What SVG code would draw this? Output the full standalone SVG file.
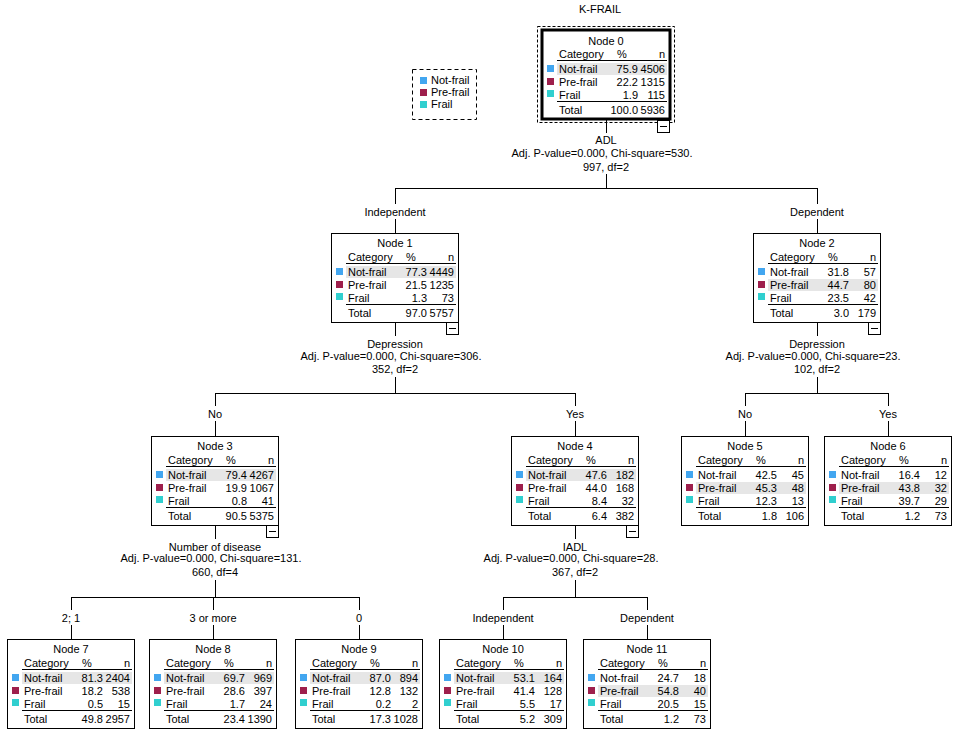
<svg xmlns="http://www.w3.org/2000/svg" width="960" height="733" viewBox="0 0 960 733">
<defs>
<style>
text{font-family:"Liberation Sans",Arial,sans-serif;font-size:11px;fill:#000}
.c{text-anchor:middle}
.r{text-anchor:end}
.box{fill:#fff;stroke:#000;stroke-width:1}
.ln{stroke:#000;stroke-width:1;fill:none}
.sep{stroke:#000;stroke-width:1}
.hl{fill:#e6e6e6}
.nf{fill:#42a6f0}
.pf{fill:#9e1f4c}
.fr{fill:#30cfcf}
.mb{fill:#fff;stroke:#000;stroke-width:1}
</style>
</defs>
<rect width="960" height="733" fill="#fff"/>
<text class="c" x="600" y="13">K-FRAIL</text>

<g id="legend">
<rect x="412.5" y="69.5" width="64" height="50" fill="#fff" stroke="#000" stroke-dasharray="4,3"/>
<rect class="nf" x="420" y="77" width="7" height="7"/><text x="431" y="84">Not-frail</text>
<rect class="pf" x="420" y="89" width="7" height="7"/><text x="431" y="96">Pre-frail</text>
<rect class="fr" x="420" y="101" width="7" height="7"/><text x="431" y="108">Frail</text>
</g>

<g id="connectors">
<!-- node0 split -->
<line class="ln" x1="606.5" y1="119" x2="606.5" y2="133"/>
<line class="ln" x1="606.5" y1="174" x2="606.5" y2="188"/>
<line class="ln" x1="395.5" y1="188.5" x2="817.5" y2="188.5"/>
<line class="ln" x1="395.5" y1="188" x2="395.5" y2="204"/>
<line class="ln" x1="395.5" y1="219" x2="395.5" y2="233"/>
<line class="ln" x1="817.5" y1="188" x2="817.5" y2="204"/>
<line class="ln" x1="817.5" y1="219" x2="817.5" y2="233"/>
<!-- node1 split -->
<line class="ln" x1="395.5" y1="322" x2="395.5" y2="336"/>
<line class="ln" x1="395.5" y1="377" x2="395.5" y2="393"/>
<line class="ln" x1="215.5" y1="393.5" x2="575.5" y2="393.5"/>
<line class="ln" x1="215.5" y1="393" x2="215.5" y2="406"/>
<line class="ln" x1="215.5" y1="421" x2="215.5" y2="436"/>
<line class="ln" x1="575.5" y1="393" x2="575.5" y2="406"/>
<line class="ln" x1="575.5" y1="421" x2="575.5" y2="436"/>
<!-- node2 split -->
<line class="ln" x1="817.5" y1="322" x2="817.5" y2="336"/>
<line class="ln" x1="817.5" y1="377" x2="817.5" y2="393"/>
<line class="ln" x1="745.5" y1="393.5" x2="888.5" y2="393.5"/>
<line class="ln" x1="745.5" y1="393" x2="745.5" y2="406"/>
<line class="ln" x1="745.5" y1="421" x2="745.5" y2="436"/>
<line class="ln" x1="888.5" y1="393" x2="888.5" y2="406"/>
<line class="ln" x1="888.5" y1="421" x2="888.5" y2="436"/>
<!-- node3 split -->
<line class="ln" x1="215.5" y1="525" x2="215.5" y2="539"/>
<line class="ln" x1="215.5" y1="580" x2="215.5" y2="597"/>
<line class="ln" x1="71.5" y1="597.5" x2="359.5" y2="597.5"/>
<line class="ln" x1="71.5" y1="597" x2="71.5" y2="610"/>
<line class="ln" x1="71.5" y1="625" x2="71.5" y2="639"/>
<line class="ln" x1="213.5" y1="597" x2="213.5" y2="610"/>
<line class="ln" x1="213.5" y1="625" x2="213.5" y2="639"/>
<line class="ln" x1="359.5" y1="597" x2="359.5" y2="610"/>
<line class="ln" x1="359.5" y1="625" x2="359.5" y2="639"/>
<!-- node4 split -->
<line class="ln" x1="575.5" y1="525" x2="575.5" y2="539"/>
<line class="ln" x1="575.5" y1="580" x2="575.5" y2="597"/>
<line class="ln" x1="503.5" y1="597.5" x2="647.5" y2="597.5"/>
<line class="ln" x1="503.5" y1="597" x2="503.5" y2="610"/>
<line class="ln" x1="503.5" y1="625" x2="503.5" y2="639"/>
<line class="ln" x1="647.5" y1="597" x2="647.5" y2="610"/>
<line class="ln" x1="647.5" y1="625" x2="647.5" y2="639"/>
</g>

<g id="split-labels">
<text class="c" x="606" y="144">ADL</text>
<text class="c" x="602" y="157">Adj. P-value=0.000, Chi-square=530.</text>
<text class="c" x="606" y="171">997, df=2</text>
<text class="c" x="395" y="216">Independent</text>
<text class="c" x="817" y="216">Dependent</text>

<text class="c" x="395" y="348">Depression</text>
<text class="c" x="391" y="360">Adj. P-value=0.000, Chi-square=306.</text>
<text class="c" x="395" y="373">352, df=2</text>
<text class="c" x="215" y="418">No</text>
<text class="c" x="575" y="418">Yes</text>

<text class="c" x="817" y="348">Depression</text>
<text class="c" x="813" y="360">Adj. P-value=0.000, Chi-square=23.</text>
<text class="c" x="817" y="373">102, df=2</text>
<text class="c" x="745" y="418">No</text>
<text class="c" x="888" y="418">Yes</text>

<text class="c" x="215" y="551">Number of disease</text>
<text class="c" x="211" y="562">Adj. P-value=0.000, Chi-square=131.</text>
<text class="c" x="215" y="576">660, df=4</text>
<text class="c" x="575" y="551">IADL</text>
<text class="c" x="571" y="562">Adj. P-value=0.000, Chi-square=28.</text>
<text class="c" x="575" y="576">367, df=2</text>

<text class="c" x="71" y="622">2; 1</text>
<text class="c" x="213" y="622">3 or more</text>
<text class="c" x="359" y="622">0</text>
<text class="c" x="503" y="622">Independent</text>
<text class="c" x="647" y="622">Dependent</text>
</g>

<g id="node0">
<rect x="537.5" y="26.5" width="137" height="96" fill="none" stroke="#000" stroke-dasharray="3,2"/>
<g transform="translate(542,30)">
<rect x="0" y="0" width="128" height="89" fill="#fff" stroke="#000" stroke-width="3"/>
<rect class="hl" x="15" y="33" width="110" height="12"/>
<text class="c" x="64" y="15">Node 0</text>
<text x="17" y="28">Category</text><text class="c" x="80" y="28">%</text><text class="r" x="123" y="28">n</text>
<line class="sep" x1="15" y1="30.5" x2="125" y2="30.5"/>
<rect class="nf" x="5" y="35" width="7" height="7"/><text x="17" y="43">Not-frail</text><text class="r" x="96" y="43">75.9</text><text class="r" x="123" y="43">4506</text>
<rect class="pf" x="5" y="48" width="7" height="7"/><text x="17" y="56">Pre-frail</text><text class="r" x="96" y="56">22.2</text><text class="r" x="123" y="56">1315</text>
<rect class="fr" x="5" y="60" width="7" height="7"/><text x="17" y="69">Frail</text><text class="r" x="96" y="69">1.9</text><text class="r" x="123" y="69">115</text>
<line class="sep" x1="15" y1="71.5" x2="125" y2="71.5"/>
<text x="17" y="84">Total</text><text class="r" x="96" y="84">100.0</text><text class="r" x="123" y="84">5936</text>
<rect class="mb" x="115.5" y="90.5" width="12" height="12"/><line class="sep" x1="118" y1="96.5" x2="125" y2="96.5"/>
</g>
</g>

<g id="node1" transform="translate(331,233)">
<rect class="box" x="0.5" y="0.5" width="127" height="89"/>
<rect class="hl" x="15" y="33" width="110" height="12"/>
<text class="c" x="64" y="14">Node 1</text>
<text x="17" y="28">Category</text><text class="c" x="80" y="28">%</text><text class="r" x="123" y="28">n</text>
<line class="sep" x1="15" y1="30.5" x2="125" y2="30.5"/>
<rect class="nf" x="5" y="35" width="7" height="7"/><text x="17" y="43">Not-frail</text><text class="r" x="96" y="43">77.3</text><text class="r" x="123" y="43">4449</text>
<rect class="pf" x="5" y="48" width="7" height="7"/><text x="17" y="56">Pre-frail</text><text class="r" x="96" y="56">21.5</text><text class="r" x="123" y="56">1235</text>
<rect class="fr" x="5" y="60" width="7" height="7"/><text x="17" y="69">Frail</text><text class="r" x="96" y="69">1.3</text><text class="r" x="123" y="69">73</text>
<line class="sep" x1="15" y1="71.5" x2="125" y2="71.5"/>
<text x="17" y="84">Total</text><text class="r" x="96" y="84">97.0</text><text class="r" x="123" y="84">5757</text>
<rect class="mb" x="115.5" y="89.5" width="12" height="12"/><line class="sep" x1="118" y1="95.5" x2="125" y2="95.5"/>
</g>

<g id="node2" transform="translate(753,233)">
<rect class="box" x="0.5" y="0.5" width="127" height="89"/>
<rect class="hl" x="15" y="46" width="110" height="12"/>
<text class="c" x="64" y="14">Node 2</text>
<text x="17" y="28">Category</text><text class="c" x="80" y="28">%</text><text class="r" x="123" y="28">n</text>
<line class="sep" x1="15" y1="30.5" x2="125" y2="30.5"/>
<rect class="nf" x="5" y="35" width="7" height="7"/><text x="17" y="43">Not-frail</text><text class="r" x="96" y="43">31.8</text><text class="r" x="123" y="43">57</text>
<rect class="pf" x="5" y="48" width="7" height="7"/><text x="17" y="56">Pre-frail</text><text class="r" x="96" y="56">44.7</text><text class="r" x="123" y="56">80</text>
<rect class="fr" x="5" y="60" width="7" height="7"/><text x="17" y="69">Frail</text><text class="r" x="96" y="69">23.5</text><text class="r" x="123" y="69">42</text>
<line class="sep" x1="15" y1="71.5" x2="125" y2="71.5"/>
<text x="17" y="84">Total</text><text class="r" x="96" y="84">3.0</text><text class="r" x="123" y="84">179</text>
<rect class="mb" x="115.5" y="89.5" width="12" height="12"/><line class="sep" x1="118" y1="95.5" x2="125" y2="95.5"/>
</g>

<g id="node3" transform="translate(151,436)">
<rect class="box" x="0.5" y="0.5" width="127" height="89"/>
<rect class="hl" x="15" y="33" width="110" height="12"/>
<text class="c" x="64" y="14">Node 3</text>
<text x="17" y="28">Category</text><text class="c" x="80" y="28">%</text><text class="r" x="123" y="28">n</text>
<line class="sep" x1="15" y1="30.5" x2="125" y2="30.5"/>
<rect class="nf" x="5" y="35" width="7" height="7"/><text x="17" y="43">Not-frail</text><text class="r" x="96" y="43">79.4</text><text class="r" x="123" y="43">4267</text>
<rect class="pf" x="5" y="48" width="7" height="7"/><text x="17" y="56">Pre-frail</text><text class="r" x="96" y="56">19.9</text><text class="r" x="123" y="56">1067</text>
<rect class="fr" x="5" y="60" width="7" height="7"/><text x="17" y="69">Frail</text><text class="r" x="96" y="69">0.8</text><text class="r" x="123" y="69">41</text>
<line class="sep" x1="15" y1="71.5" x2="125" y2="71.5"/>
<text x="17" y="84">Total</text><text class="r" x="96" y="84">90.5</text><text class="r" x="123" y="84">5375</text>
<rect class="mb" x="115.5" y="89.5" width="12" height="12"/><line class="sep" x1="118" y1="95.5" x2="125" y2="95.5"/>
</g>

<g id="node4" transform="translate(511,436)">
<rect class="box" x="0.5" y="0.5" width="127" height="89"/>
<rect class="hl" x="15" y="33" width="110" height="12"/>
<text class="c" x="64" y="14">Node 4</text>
<text x="17" y="28">Category</text><text class="c" x="80" y="28">%</text><text class="r" x="123" y="28">n</text>
<line class="sep" x1="15" y1="30.5" x2="125" y2="30.5"/>
<rect class="nf" x="5" y="35" width="7" height="7"/><text x="17" y="43">Not-frail</text><text class="r" x="96" y="43">47.6</text><text class="r" x="123" y="43">182</text>
<rect class="pf" x="5" y="48" width="7" height="7"/><text x="17" y="56">Pre-frail</text><text class="r" x="96" y="56">44.0</text><text class="r" x="123" y="56">168</text>
<rect class="fr" x="5" y="60" width="7" height="7"/><text x="17" y="69">Frail</text><text class="r" x="96" y="69">8.4</text><text class="r" x="123" y="69">32</text>
<line class="sep" x1="15" y1="71.5" x2="125" y2="71.5"/>
<text x="17" y="84">Total</text><text class="r" x="96" y="84">6.4</text><text class="r" x="123" y="84">382</text>
<rect class="mb" x="115.5" y="89.5" width="12" height="12"/><line class="sep" x1="118" y1="95.5" x2="125" y2="95.5"/>
</g>

<g id="node5" transform="translate(681,436)">
<rect class="box" x="0.5" y="0.5" width="127" height="89"/>
<rect class="hl" x="15" y="46" width="110" height="12"/>
<text class="c" x="64" y="14">Node 5</text>
<text x="17" y="28">Category</text><text class="c" x="80" y="28">%</text><text class="r" x="123" y="28">n</text>
<line class="sep" x1="15" y1="30.5" x2="125" y2="30.5"/>
<rect class="nf" x="5" y="35" width="7" height="7"/><text x="17" y="43">Not-frail</text><text class="r" x="96" y="43">42.5</text><text class="r" x="123" y="43">45</text>
<rect class="pf" x="5" y="48" width="7" height="7"/><text x="17" y="56">Pre-frail</text><text class="r" x="96" y="56">45.3</text><text class="r" x="123" y="56">48</text>
<rect class="fr" x="5" y="60" width="7" height="7"/><text x="17" y="69">Frail</text><text class="r" x="96" y="69">12.3</text><text class="r" x="123" y="69">13</text>
<line class="sep" x1="15" y1="71.5" x2="125" y2="71.5"/>
<text x="17" y="84">Total</text><text class="r" x="96" y="84">1.8</text><text class="r" x="123" y="84">106</text>
</g>

<g id="node6" transform="translate(824,436)">
<rect class="box" x="0.5" y="0.5" width="127" height="89"/>
<rect class="hl" x="15" y="46" width="110" height="12"/>
<text class="c" x="64" y="14">Node 6</text>
<text x="17" y="28">Category</text><text class="c" x="80" y="28">%</text><text class="r" x="123" y="28">n</text>
<line class="sep" x1="15" y1="30.5" x2="125" y2="30.5"/>
<rect class="nf" x="5" y="35" width="7" height="7"/><text x="17" y="43">Not-frail</text><text class="r" x="96" y="43">16.4</text><text class="r" x="123" y="43">12</text>
<rect class="pf" x="5" y="48" width="7" height="7"/><text x="17" y="56">Pre-frail</text><text class="r" x="96" y="56">43.8</text><text class="r" x="123" y="56">32</text>
<rect class="fr" x="5" y="60" width="7" height="7"/><text x="17" y="69">Frail</text><text class="r" x="96" y="69">39.7</text><text class="r" x="123" y="69">29</text>
<line class="sep" x1="15" y1="71.5" x2="125" y2="71.5"/>
<text x="17" y="84">Total</text><text class="r" x="96" y="84">1.2</text><text class="r" x="123" y="84">73</text>
</g>

<g id="node7" transform="translate(7,639)">
<rect class="box" x="0.5" y="0.5" width="127" height="89"/>
<rect class="hl" x="15" y="33" width="110" height="12"/>
<text class="c" x="64" y="14">Node 7</text>
<text x="17" y="28">Category</text><text class="c" x="80" y="28">%</text><text class="r" x="123" y="28">n</text>
<line class="sep" x1="15" y1="30.5" x2="125" y2="30.5"/>
<rect class="nf" x="5" y="35" width="7" height="7"/><text x="17" y="43">Not-frail</text><text class="r" x="96" y="43">81.3</text><text class="r" x="123" y="43">2404</text>
<rect class="pf" x="5" y="48" width="7" height="7"/><text x="17" y="56">Pre-frail</text><text class="r" x="96" y="56">18.2</text><text class="r" x="123" y="56">538</text>
<rect class="fr" x="5" y="60" width="7" height="7"/><text x="17" y="69">Frail</text><text class="r" x="96" y="69">0.5</text><text class="r" x="123" y="69">15</text>
<line class="sep" x1="15" y1="71.5" x2="125" y2="71.5"/>
<text x="17" y="84">Total</text><text class="r" x="96" y="84">49.8</text><text class="r" x="123" y="84">2957</text>
</g>

<g id="node8" transform="translate(149,639)">
<rect class="box" x="0.5" y="0.5" width="127" height="89"/>
<rect class="hl" x="15" y="33" width="110" height="12"/>
<text class="c" x="64" y="14">Node 8</text>
<text x="17" y="28">Category</text><text class="c" x="80" y="28">%</text><text class="r" x="123" y="28">n</text>
<line class="sep" x1="15" y1="30.5" x2="125" y2="30.5"/>
<rect class="nf" x="5" y="35" width="7" height="7"/><text x="17" y="43">Not-frail</text><text class="r" x="96" y="43">69.7</text><text class="r" x="123" y="43">969</text>
<rect class="pf" x="5" y="48" width="7" height="7"/><text x="17" y="56">Pre-frail</text><text class="r" x="96" y="56">28.6</text><text class="r" x="123" y="56">397</text>
<rect class="fr" x="5" y="60" width="7" height="7"/><text x="17" y="69">Frail</text><text class="r" x="96" y="69">1.7</text><text class="r" x="123" y="69">24</text>
<line class="sep" x1="15" y1="71.5" x2="125" y2="71.5"/>
<text x="17" y="84">Total</text><text class="r" x="96" y="84">23.4</text><text class="r" x="123" y="84">1390</text>
</g>

<g id="node9" transform="translate(295,639)">
<rect class="box" x="0.5" y="0.5" width="127" height="89"/>
<rect class="hl" x="15" y="33" width="110" height="12"/>
<text class="c" x="64" y="14">Node 9</text>
<text x="17" y="28">Category</text><text class="c" x="80" y="28">%</text><text class="r" x="123" y="28">n</text>
<line class="sep" x1="15" y1="30.5" x2="125" y2="30.5"/>
<rect class="nf" x="5" y="35" width="7" height="7"/><text x="17" y="43">Not-frail</text><text class="r" x="96" y="43">87.0</text><text class="r" x="123" y="43">894</text>
<rect class="pf" x="5" y="48" width="7" height="7"/><text x="17" y="56">Pre-frail</text><text class="r" x="96" y="56">12.8</text><text class="r" x="123" y="56">132</text>
<rect class="fr" x="5" y="60" width="7" height="7"/><text x="17" y="69">Frail</text><text class="r" x="96" y="69">0.2</text><text class="r" x="123" y="69">2</text>
<line class="sep" x1="15" y1="71.5" x2="125" y2="71.5"/>
<text x="17" y="84">Total</text><text class="r" x="96" y="84">17.3</text><text class="r" x="123" y="84">1028</text>
</g>

<g id="node10" transform="translate(439,639)">
<rect class="box" x="0.5" y="0.5" width="127" height="89"/>
<rect class="hl" x="15" y="33" width="110" height="12"/>
<text class="c" x="64" y="14">Node 10</text>
<text x="17" y="28">Category</text><text class="c" x="80" y="28">%</text><text class="r" x="123" y="28">n</text>
<line class="sep" x1="15" y1="30.5" x2="125" y2="30.5"/>
<rect class="nf" x="5" y="35" width="7" height="7"/><text x="17" y="43">Not-frail</text><text class="r" x="96" y="43">53.1</text><text class="r" x="123" y="43">164</text>
<rect class="pf" x="5" y="48" width="7" height="7"/><text x="17" y="56">Pre-frail</text><text class="r" x="96" y="56">41.4</text><text class="r" x="123" y="56">128</text>
<rect class="fr" x="5" y="60" width="7" height="7"/><text x="17" y="69">Frail</text><text class="r" x="96" y="69">5.5</text><text class="r" x="123" y="69">17</text>
<line class="sep" x1="15" y1="71.5" x2="125" y2="71.5"/>
<text x="17" y="84">Total</text><text class="r" x="96" y="84">5.2</text><text class="r" x="123" y="84">309</text>
</g>

<g id="node11" transform="translate(583,639)">
<rect class="box" x="0.5" y="0.5" width="127" height="89"/>
<rect class="hl" x="15" y="46" width="110" height="12"/>
<text class="c" x="64" y="14">Node 11</text>
<text x="17" y="28">Category</text><text class="c" x="80" y="28">%</text><text class="r" x="123" y="28">n</text>
<line class="sep" x1="15" y1="30.5" x2="125" y2="30.5"/>
<rect class="nf" x="5" y="35" width="7" height="7"/><text x="17" y="43">Not-frail</text><text class="r" x="96" y="43">24.7</text><text class="r" x="123" y="43">18</text>
<rect class="pf" x="5" y="48" width="7" height="7"/><text x="17" y="56">Pre-frail</text><text class="r" x="96" y="56">54.8</text><text class="r" x="123" y="56">40</text>
<rect class="fr" x="5" y="60" width="7" height="7"/><text x="17" y="69">Frail</text><text class="r" x="96" y="69">20.5</text><text class="r" x="123" y="69">15</text>
<line class="sep" x1="15" y1="71.5" x2="125" y2="71.5"/>
<text x="17" y="84">Total</text><text class="r" x="96" y="84">1.2</text><text class="r" x="123" y="84">73</text>
</g>
</svg>
